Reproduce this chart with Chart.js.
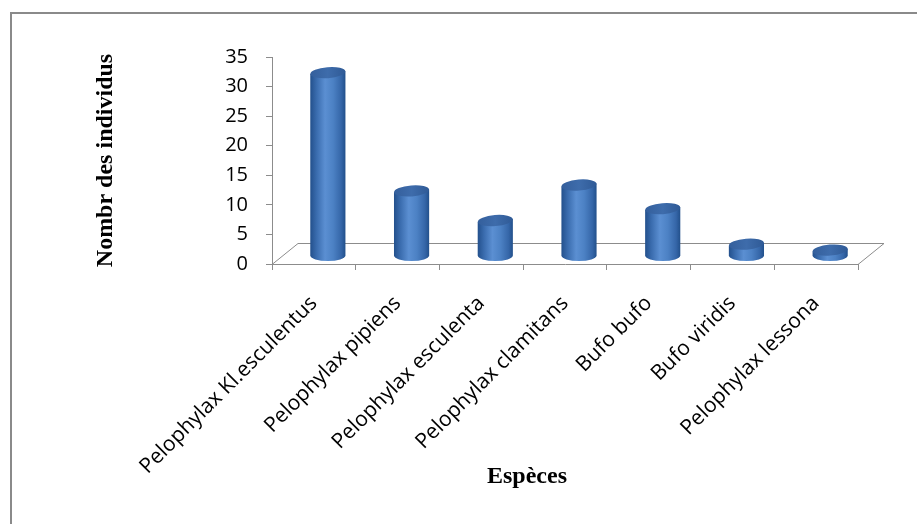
<!DOCTYPE html>
<html>
<head>
<meta charset="utf-8">
<script src="https://cdn.jsdelivr.net/npm/chart.js@4.4.0/dist/chart.umd.min.js"></script>
<style>
  html, body { margin: 0; padding: 0; background: #fff; }
  #wrap { width: 917px; height: 524px; position: relative; }
</style>
</head>
<body>
<div id="wrap"><canvas id="chart"></canvas></div>
<script>
// données
const species = [
    'Pelophylax Kl.esculentus',
    'Pelophylax pipiens',
    'Pelophylax esculenta',
    'Pelophylax clamitans',
    'Bufo bufo',
    'Bufo viridis',
    'Pelophylax lessona'
];
const counts = [31, 11, 6, 12, 8, 2, 1];
const yMin = 0;
const yMax = 35;
const yStep = 5;
const yTitle = 'Nombr des individus';
const xTitle = 'Espèces';

// effet 3D (style Excel)
const depth = { dx: 26, dy: 21 };
const barShift = { dx: 14, dy: -8 };
const axisGrey = '#8c8c8c';

const excel3d = {
    id: 'excel3d',
    beforeDraw(chart) {
        const ctx = chart.ctx;
        ctx.save();
        ctx.strokeStyle = '#8a8a8a';
        ctx.lineWidth = 2;
        ctx.strokeRect(11, 13, 1000, 1000);
        ctx.restore();
    },
    beforeDatasetsDraw(chart) {
        // plancher
        const { left, right, bottom } = chart.chartArea;
        const ctx = chart.ctx;
        ctx.save();
        ctx.strokeStyle = axisGrey;
        ctx.lineWidth = 1;
        ctx.beginPath();
        ctx.moveTo(left, bottom + 0.5);
        ctx.lineTo(left + depth.dx, bottom - depth.dy + 0.5);
        ctx.lineTo(right + depth.dx, bottom - depth.dy + 0.5);
        ctx.lineTo(right, bottom + 0.5);
        ctx.stroke();
        ctx.restore();
    },
    afterDatasetsDraw(chart) {
        // cylindres
        const ctx = chart.ctx;
        const meta = chart.getDatasetMeta(0);
        meta.data.forEach(bar => {
            const rx = bar.width / 2;
            const ry = 5.5;
            const tilt = 0.08;
            const cx = bar.x + barShift.dx;
            const top = bar.y + barShift.dy;
            const base = bar.base + barShift.dy;
            const sx = rx * Math.sin(tilt);

            const g = ctx.createLinearGradient(cx - rx, 0, cx + rx, 0);
            g.addColorStop(0, '#23508c');
            g.addColorStop(0.18, '#3a6cae');
            g.addColorStop(0.42, '#5b8fd2');
            g.addColorStop(0.65, '#4c81c4');
            g.addColorStop(0.88, '#3566a8');
            g.addColorStop(1, '#22508b');

            ctx.save();
            ctx.fillStyle = g;
            ctx.beginPath();
            ctx.moveTo(cx - rx, top + sx);
            ctx.lineTo(cx - rx, base);
            ctx.ellipse(cx, base, rx, ry, 0, Math.PI, 0, true);
            ctx.lineTo(cx + rx, top - sx);
            ctx.closePath();
            ctx.fill();

            const tg = ctx.createLinearGradient(cx - rx, 0, cx + rx, 0);
            tg.addColorStop(0, '#345f9c');
            tg.addColorStop(0.5, '#3e6cab');
            tg.addColorStop(1, '#2f5a96');
            ctx.fillStyle = tg;
            ctx.beginPath();
            ctx.ellipse(cx, top, rx, ry, -tilt, 0, Math.PI * 2);
            ctx.fill();
            ctx.restore();
        });
    },
    afterDraw(chart) {
        const ctx = chart.ctx;
        ctx.save();
        ctx.fillStyle = '#000';
        ctx.font = 'bold 24px "Liberation Serif", serif';
        ctx.textAlign = 'center';
        ctx.textBaseline = 'middle';
        ctx.fillText(xTitle, 527, 477);
        ctx.restore();
    }
};

new Chart(document.getElementById('chart'), {
    type: 'bar',
    data: {
        labels: species,
        datasets: [{
            data: counts,
            backgroundColor: 'rgba(0,0,0,0)',
            borderWidth: 0,
            barPercentage: 0.42,
            categoryPercentage: 1
        }]
    },
    options: {
        responsive: true,
        maintainAspectRatio: false,
        animation: false,
        layout: { padding: { top: 57, right: 59, left: 0, bottom: 0 } },
        plugins: { legend: { display: false }, tooltip: { enabled: false } },
        scales: {
            x: {
                grid: { drawOnChartArea: false, color: axisGrey, tickLength: 6, offset: true },
                border: { color: axisGrey, width: 1 },
                ticks: {
                    autoSkip: false, minRotation: 45, maxRotation: 45,
                    color: '#000', padding: 21,
                    font: { family: '"Open Sans", sans-serif', size: 21 }
                },
                afterFit(scale) { scale.height = 260; }
            },
            y: {
                min: yMin, max: yMax,
                grid: { drawOnChartArea: false, color: axisGrey, tickLength: 6 },
                border: { color: axisGrey, width: 1 },
                ticks: {
                    stepSize: yStep, color: '#000', padding: 18,
                    font: { family: '"Open Sans", sans-serif', size: 20 }
                },
                title: {
                    display: true, text: yTitle, color: '#000',
                    padding: { top: 91, bottom: 0 },
                    font: { family: '"Liberation Serif", serif', size: 24, weight: 'bold' }
                },
                afterFit(scale) { scale.width = 272; }
            }
        }
    },
    plugins: [excel3d]
});
</script>
</body>
</html>
